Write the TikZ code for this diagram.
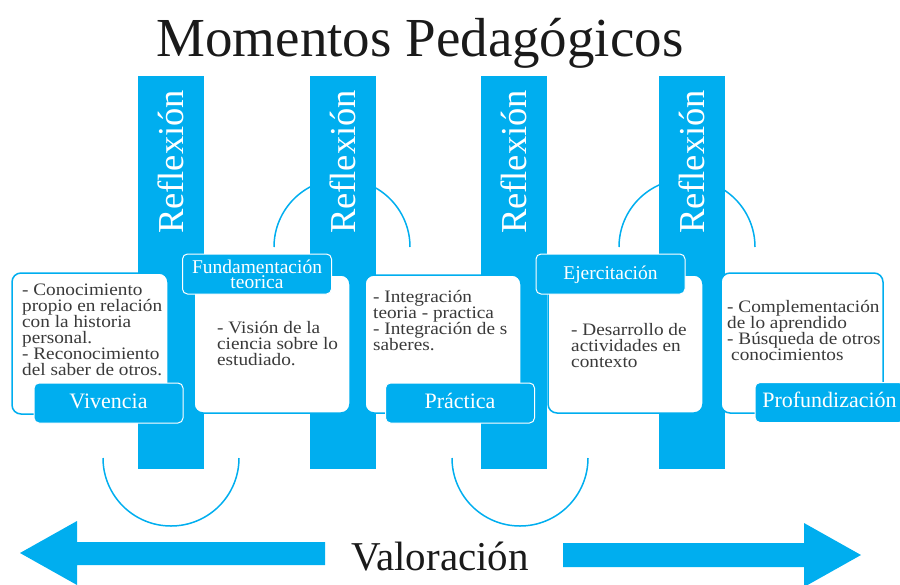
\documentclass[tikz,border=0pt]{standalone}
\usepackage{fontspec}
\setmainfont{Liberation Serif}
\newfontfamily\bodyfont[FakeStretch=1.1]{Liberation Serif}
\definecolor{cyanbar}{HTML}{00AEEF}
\definecolor{bodygray}{HTML}{3A3A3A}
\definecolor{titleblack}{HTML}{1A1A1A}
\tikzset{
  barbox/.style={fill=cyanbar, draw=none, minimum width=66pt, minimum height=393pt, inner sep=0pt},
  refltext/.style={rotate=90, anchor=base, text=white, font=\fontsize{36.5}{40}\selectfont, inner sep=0pt},
  contentbox/.style={fill=white, draw=cyanbar, line width=1.5pt, rounded corners=9pt, inner sep=0pt},
  labelbox/.style={fill=cyanbar, draw=white, line width=1pt, rounded corners=5pt, inner sep=0pt,
    minimum width=149pt, minimum height=40pt, text=white, align=center},
  bodytext/.style={anchor=north west, inner sep=0pt, align=left, text=bodygray,
    font=\bodyfont\fontsize{17.5}{16}\selectfont},
  arcline/.style={draw=cyanbar, line width=1.5pt},
  bigarrow/.style={fill=cyanbar, draw=none}
}
\begin{document}
\lineskiplimit=-20pt\relax
\lineskip=0pt\relax
\begin{tikzpicture}[x=1pt,y=-1pt]
\useasboundingbox (0,0) rectangle (900,584);
\clip (0,0) rectangle (900,584);

% title
\node[anchor=base, inner sep=0pt, text=titleblack, font=\fontsize{55}{60}\selectfont] (title) at (420,56) {Momentos Pedagógicos};

% arcs (behind bars)
\draw[arcline] (103,458) arc[start angle=180, end angle=0, radius=68];
\draw[arcline] (452,458) arc[start angle=180, end angle=0, radius=68];
\draw[arcline] (274,247) arc[start angle=180, end angle=360, radius=68];
\draw[arcline] (619,247) arc[start angle=180, end angle=360, radius=68];

% bars
\node[barbox] (b1) at (171,272.5) {};
\node[barbox] (b2) at (343,272.5) {};
\node[barbox] (b3) at (514,272.5) {};
\node[barbox] (b4) at (692,272.5) {};
\node[refltext] (r1) at (183,162) {Reflexión};
\node[refltext] (r2) at (355,162) {Reflexión};
\node[refltext] (r3) at (526,162) {Reflexión};
\node[refltext] (r4) at (704,162) {Reflexión};

% content boxes
\node[contentbox, minimum width=156pt, minimum height=141pt] (c1) at (90,343.5) {};
\node[contentbox, minimum width=156pt, minimum height=138pt] (c2) at (272,344) {};
\node[contentbox, minimum width=156pt, minimum height=138pt] (c3) at (443,344) {};
\node[contentbox, minimum width=155pt, minimum height=138pt] (c4) at (625.5,344) {};
\node[contentbox, minimum width=162pt, minimum height=140pt] (c5) at (802,343) {};

% content texts
\node[bodytext] (t1) at (22,281) {\rule{0pt}{14pt}- Conocimiento\\ propio en relación\\ con la historia\\ personal.\\ - Reconocimiento\\ del saber de otros.};
\node[bodytext] (t2) at (217,319) {\rule{0pt}{14pt}- Visión de la\\ ciencia sobre lo\\ estudiado.};
\node[bodytext] (t3) at (373,288) {\rule{0pt}{14pt}- Integración\\ teoria - practica\\ - Integración de s\\ saberes.};
\node[bodytext] (t4) at (571,321) {\rule{0pt}{14pt}- Desarrollo de\\ actividades en\\ contexto};
\node[bodytext] (t5) at (727,298) {\rule{0pt}{14pt}- Complementación\\ de lo aprendido\\ - Búsqueda de otros\\ \hspace*{4pt}conocimientos};

% labels
\node[labelbox, font=\fontsize{22}{24}\selectfont, text height=14pt, text depth=4pt] (l1) at (108.5,403) {Vivencia};
\node[labelbox, font=\fontsize{19.5}{15}\selectfont] (l2) at (257,274) {Fundamentación\\ teorica};
\node[labelbox, font=\fontsize{22}{24}\selectfont, text height=14pt, text depth=4pt] (l3) at (460,403) {Práctica};
\node[labelbox, font=\fontsize{19.5}{22}\selectfont, text height=14pt, text depth=4pt] (l4) at (610.5,274) {Ejercitación};
\node[labelbox, font=\fontsize{22}{24}\selectfont, text height=14pt, text depth=4pt] (l5) at (829.5,402.5) {Profundización};

% bottom arrows
\fill[bigarrow] (20,553) -- (77,521) -- (77,542) -- (325,542) -- (325,565) -- (77,565) -- (77,585) -- cycle;
\fill[bigarrow] (563,543) -- (804,543) -- (804,523) -- (861,555) -- (804,587) -- (804,567) -- (563,567) -- cycle;
\node[anchor=base, inner sep=0pt, text=titleblack, font=\fontsize{41}{44}\selectfont] (val) at (440,570) {Valoración};
\end{tikzpicture}
\end{document}
